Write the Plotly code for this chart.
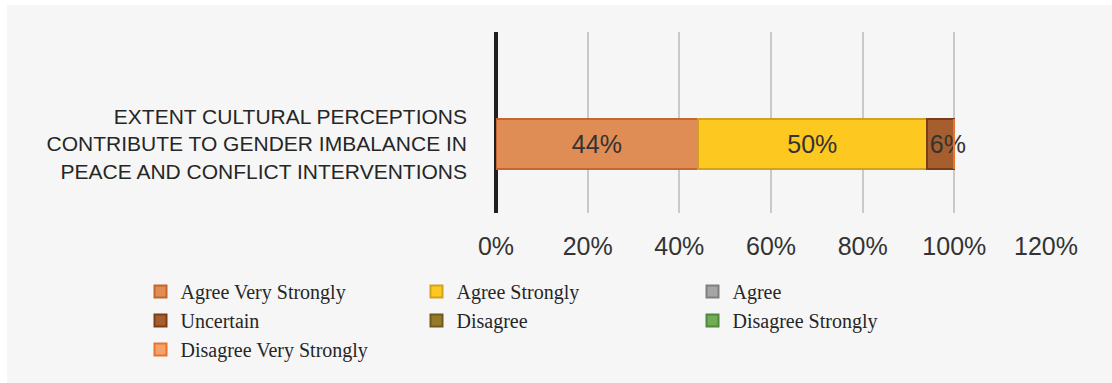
import plotly.graph_objects as go

# Survey item and response shares (percent)
category = ["EXTENT CULTURAL PERCEPTIONS<br>CONTRIBUTE TO GENDER IMBALANCE IN<br>PEACE AND CONFLICT INTERVENTIONS"]
responses = ["Agree Very Strongly", "Agree Strongly", "Agree", "Uncertain",
             "Disagree", "Disagree Strongly", "Disagree Very Strongly"]
values = [44, 50, 0, 6, 0, 0, 0]
fill_colors = ["#e08c55", "#fdc820", "#a5a5a5", "#a65e2e", "#957a2b", "#70ad55", "#f4a26c"]
line_colors = ["#c4662f", "#d1a21f", "#7f7f7f", "#7a3e17", "#6e5a1c", "#4f8a3a", "#e8732e"]
tick_vals = [0, 20, 40, 60, 80, 100, 120]
tick_text = ["0%", "20%", "40%", "60%", "80%", "100%", "120%"]

W, H = 1112, 383
L, R, T, B = 496, 66, 32, 170
plot_w = W - L - R
plot_h = H - T - B

fig = go.Figure()
for name, v, fc, lc in zip(responses, values, fill_colors, line_colors):
    show_text = v > 0
    fig.add_trace(go.Bar(
        y=category,
        x=[v],
        name=name,
        orientation="h",
        marker=dict(color=fc, line=dict(color=lc, width=2)),
        text=[f"{v}%"] if show_text else None,
        textposition="inside",
        textangle=0,
        insidetextanchor="start" if (show_text and v < 10) else "middle",
        constraintext="none",
        textfont=dict(family="Liberation Sans, Arial, sans-serif", size=25, color="#333333"),
        hoverinfo="x+name",
    ))

fig.update_layout(
    width=W,
    height=H,
    margin=dict(l=L, r=R, t=T, b=B, pad=0, autoexpand=False),
    barmode="stack",
    bargap=0.724,
    paper_bgcolor="#ffffff",
    plot_bgcolor="#f6f6f6",
    showlegend=True,
    legend=dict(
        orientation="h",
        x=(140.5 - L) / plot_w,
        xanchor="left",
        y=(T + plot_h - 272) / plot_h,
        yanchor="top",
        entrywidthmode="pixels",
        entrywidth=231,
        traceorder="normal",
        font=dict(family="Liberation Serif, Times New Roman, serif", size=20, color="#262626"),
        bgcolor="rgba(0,0,0,0)",
        itemclick=False,
    ),
    shapes=[dict(
        type="rect", xref="paper", yref="paper", layer="below",
        x0=(7 - L) / plot_w, x1=(W - L) / plot_w,
        y0=(T + plot_h - H) / plot_h, y1=(T + plot_h - 5) / plot_h,
        fillcolor="#f6f6f6", line=dict(width=0),
    )],
)

fig.update_xaxes(
    range=[0, 120],
    tickvals=tick_vals,
    ticktext=tick_text,
    showgrid=True,
    gridcolor="#c9c9c9",
    gridwidth=2,
    zeroline=True,
    zerolinecolor="#231f20",
    zerolinewidth=4,
    showline=False,
    ticks="",
    ticklabelstandoff=16,
    tickfont=dict(family="Liberation Sans, Arial, sans-serif", size=25, color="#333333"),
    fixedrange=True,
)
fig.update_yaxes(
    type="category",
    range=[-0.381, 0.619],
    showgrid=False,
    showline=False,
    zeroline=False,
    ticks="",
    ticklabelstandoff=28,
    tickfont=dict(family="Liberation Sans, Arial, sans-serif", size=21, color="#262626"),
    fixedrange=True,
)

fig.write_html("out.html")
